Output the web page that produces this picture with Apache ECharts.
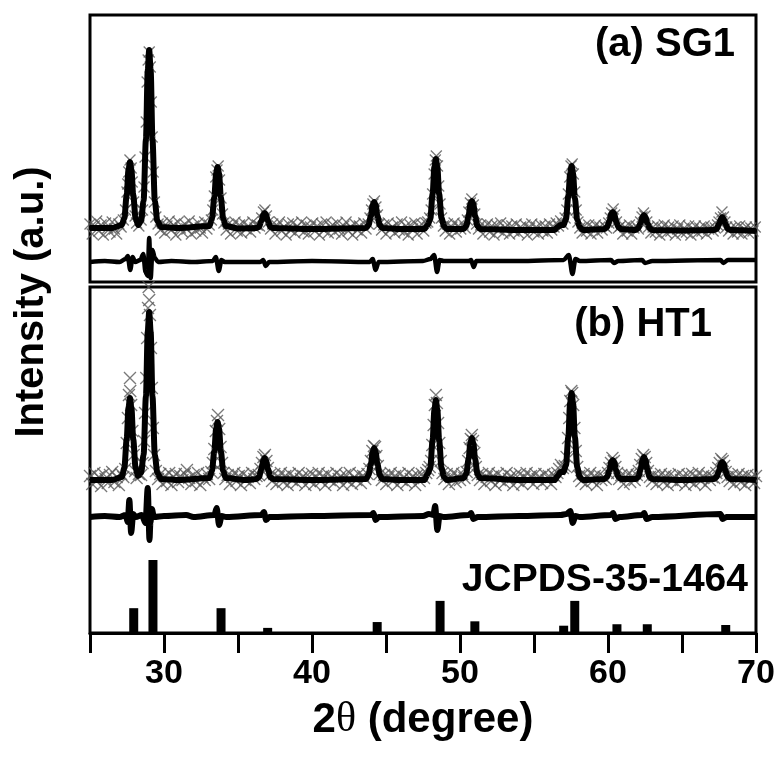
<!DOCTYPE html>
<html>
<head>
<meta charset="utf-8">
<script src="https://cdn.jsdelivr.net/npm/echarts@6/dist/echarts.min.js"></script>
<style>
html,body{margin:0;padding:0;background:#fff;}
#chart{width:784px;height:760px;}
</style>
</head>
<body>
<div id="chart"></div>
<script>
// ---------------- DATA (2θ in degree, intensity in a.u.) ----------------
// (a) SG1 : observed points
var sg1Obs = [
[25.0,8],[25.15,-2],[25.3,6],[25.45,11],[25.6,1],[25.75,7],[25.9,-3],[26.05,9],[26.2,4],[26.35,0],[26.5,10],[26.65,3],[26.8,-2],[26.95,8],[27.1,5],[27.25,12],[27.4,22],[27.5,40],[27.55,48],[27.62,60],[27.7,72],[27.78,64],[27.85,50],[27.95,30],[28.05,16],[28.15,9],[28.3,6],[28.45,12],[28.55,22],[28.65,45],[28.72,75],[28.8,110],[28.86,150],[28.93,172],[29.0,180],[29.07,165],[29.14,130],[29.2,95],[29.27,60],[29.35,30],[29.45,15],[29.6,8],[29.75,2],[29.9,9],
[30.05,-1],[30.2,6],[30.35,11],[30.5,2],[30.65,7],[30.8,-3],[30.95,10],[31.1,4],[31.25,0],[31.4,8],[31.55,3],[31.7,11],[31.85,-2],[32.0,6],[32.15,1],[32.3,9],[32.45,4],[32.6,-1],[32.75,10],[32.9,3],[33.05,7],[33.2,12],[33.3,22],[33.4,36],[33.5,55],[33.58,62],[33.66,66],[33.75,52],[33.85,34],[33.95,18],[34.05,9],[34.2,2],[34.35,8],[34.5,-2],[34.65,6],[34.8,10],[34.95,1],[35.1,7],[35.25,-1],[35.4,9],[35.55,3],[35.7,6],[35.85,0],[36.0,10],[36.15,4],[36.3,7],[36.45,6],[36.6,14],[36.72,20],[36.82,22],[36.92,16],[37.05,10],[37.2,3],[37.35,8],[37.5,-2],[37.65,6],[37.8,10],[37.95,1],[38.1,5],[38.25,-3],[38.4,8],[38.55,2],[38.7,9],[38.85,-1],[39.0,6],[39.15,3],[39.3,10],[39.45,0],[39.6,7],[39.75,-2],[39.9,5],
[40.05,9],[40.2,1],[40.35,6],[40.5,-3],[40.65,8],[40.8,2],[40.95,10],[41.1,-1],[41.25,5],[41.4,7],[41.55,0],[41.7,9],[41.85,3],[42.0,-2],[42.15,6],[42.3,10],[42.45,1],[42.6,5],[42.75,-3],[42.9,8],[43.05,2],[43.2,6],[43.35,-1],[43.5,9],[43.65,3],[43.8,8],[43.92,14],[44.02,22],[44.12,28],[44.22,31],[44.32,25],[44.42,17],[44.55,8],[44.7,2],[44.85,7],[45.0,-2],[45.15,9],[45.3,3],[45.45,5],[45.6,-1],[45.75,8],[45.9,2],[46.05,10],[46.2,0],[46.35,6],[46.5,-3],[46.65,7],[46.8,3],[46.95,9],[47.1,-2],[47.25,5],[47.4,8],[47.55,1],[47.7,9],[47.82,10],[47.95,14],[48.05,22],[48.15,38],[48.25,58],[48.33,72],[48.4,76],[48.48,66],[48.56,46],[48.65,28],[48.75,14],[48.88,6],[49.0,1],[49.15,8],[49.3,-2],[49.45,5],[49.6,9],[49.75,0],[49.9,6],
[50.05,3],[50.2,8],[50.35,4],[50.5,12],[50.6,20],[50.7,29],[50.8,33],[50.9,27],[51.0,18],[51.12,8],[51.25,3],[51.4,7],[51.55,-2],[51.7,5],[51.85,8],[52.0,0],[52.15,6],[52.3,-3],[52.45,7],[52.6,2],[52.75,9],[52.9,-1],[53.05,4],[53.2,7],[53.35,-2],[53.5,6],[53.65,1],[53.8,8],[53.95,-1],[54.1,5],[54.25,2],[54.4,7],[54.55,-3],[54.7,4],[54.85,8],[55.0,0],[55.15,5],[55.3,-2],[55.45,7],[55.6,1],[55.75,6],[55.9,-1],[56.05,8],[56.2,2],[56.35,5],[56.5,9],[56.65,6],[56.8,11],[56.95,8],[57.1,14],[57.22,22],[57.32,38],[57.42,55],[57.5,66],[57.58,68],[57.66,58],[57.75,40],[57.85,22],[57.97,10],[58.1,4],[58.25,-1],[58.4,6],[58.55,1],[58.7,7],[58.85,-2],[59.0,4],[59.15,7],[59.3,-1],[59.45,5],[59.6,2],[59.75,6],[59.9,4],
[60.05,9],[60.15,14],[60.25,19],[60.35,23],[60.45,17],[60.57,10],[60.7,4],[60.85,6],[61.0,-2],[61.15,5],[61.3,1],[61.45,7],[61.6,-2],[61.75,4],[61.9,6],[62.05,3],[62.2,10],[62.3,15],[62.4,19],[62.5,16],[62.62,10],[62.75,5],[62.9,-1],[63.05,5],[63.2,0],[63.35,6],[63.5,-3],[63.65,4],[63.8,7],[63.95,-1],[64.1,5],[64.25,1],[64.4,6],[64.55,-3],[64.7,3],[64.85,7],[65.0,-1],[65.15,4],[65.3,0],[65.45,6],[65.6,-3],[65.75,3],[65.9,6],[66.05,-1],[66.2,4],[66.35,1],[66.5,6],[66.65,-2],[66.8,3],[66.95,5],[67.1,1],[67.25,4],[67.4,7],[67.5,10],[67.6,14],[67.7,20],[67.8,15],[67.9,10],[68.02,5],[68.15,1],[68.3,4],[68.45,-2],[68.6,5],[68.75,0],[68.9,6],[69.05,-2],[69.2,3],[69.35,5],[69.5,-1],[69.65,4],[69.8,1],[69.95,5]
];
// (a) SG1 : calculated profile
var sg1Calc = [
[25.0,4],[26.5,4],[27.15,7],[27.32,14],[27.48,37],[27.6,62],[27.7,70],[27.8,62],[27.92,37],[28.08,14],[28.25,7],[28.45,11],[28.62,31],[28.78,93],[28.9,161],[29.0,182],[29.1,161],[29.22,93],[29.38,31],[29.55,11],[29.8,5],[31.0,4],[33.07,6],[33.24,13],[33.4,35],[33.52,58],[33.62,65],[33.72,58],[33.84,35],[34.0,13],[34.17,6],[35.0,3.5],[36.25,4],[36.42,5],[36.58,11],[36.7,17],[36.8,19],[36.9,17],[37.02,11],[37.18,5],[37.35,4],[40.0,3],[43.65,4],[43.82,7],[43.98,16],[44.1,27],[44.2,30],[44.3,27],[44.42,16],[44.58,7],[44.75,4],[46.0,3],[47.6,3],[47.82,7],[47.99,13],[48.15,38],[48.27,65],[48.37,73],[48.47,65],[48.59,38],[48.75,14],[48.92,6],[49.1,3],[50.25,3],[50.42,6],[50.58,16],[50.7,28],[50.8,31],[50.9,28],[51.02,16],[51.18,6],[51.35,3],[54.0,2],[56.4,2],[56.6,5],[56.8,7],[57.0,7],[57.16,13],[57.32,36],[57.44,58],[57.54,66],[57.64,58],[57.76,34],[57.92,12],[58.09,5],[58.3,2],[59.77,3],[59.94,5],[60.1,11],[60.22,18],[60.32,20],[60.42,18],[60.54,11],[60.7,5],[60.87,3],[61.88,2],[62.05,4],[62.21,9],[62.33,15],[62.43,17],[62.53,15],[62.65,9],[62.81,4],[62.98,2],[65.0,1.5],[67.17,2],[67.34,3],[67.5,8],[67.62,13],[67.72,15],[67.82,13],[67.94,8],[68.1,3],[68.27,2],[70.0,1]
];
// (a) SG1 : difference (obs - calc)
var sg1Diff = [
[25,0],[26,1],[27,0],[27.4,3],[27.55,6],[27.72,-8],[27.88,5],[28.05,0],[28.4,2],[28.6,8],[28.75,-10],[28.9,-14],[29.0,24],[29.1,-16],[29.22,12],[29.38,4],[29.6,0],[30.5,1],[32,0],[33.3,1],[33.5,5],[33.7,-9],[33.88,2],[34.1,0],[36.5,0],[36.7,2],[36.88,-4],[37.1,0],[40,1],[43.9,0],[44.1,3],[44.3,-8],[44.5,0],[47.5,1],[48.0,3],[48.25,7],[48.45,-10],[48.62,2],[48.9,1],[50.6,1],[50.75,2],[50.92,-5],[51.1,1],[54,1],[57.0,2],[57.35,7],[57.6,-12],[57.8,3],[58.1,1],[60.2,2],[60.4,-1],[60.7,1],[62.3,2],[62.5,-1],[63,1],[67.6,2],[67.8,-1],[68.1,2],[70,2]
];

// (b) HT1 : observed points
var ht1Obs = [
[25.0,7],[25.15,-1],[25.3,10],[25.45,2],[25.6,6],[25.75,-3],[25.9,9],[26.05,4],[26.2,0],[26.35,8],[26.5,11],[26.65,1],[26.8,6],[26.95,-2],[27.1,9],[27.25,6],[27.38,14],[27.48,40],[27.56,65],[27.63,88],[27.7,105],[27.72,92],[27.78,78],[27.86,52],[27.95,28],[28.05,12],[28.15,5],[28.3,9],[28.45,8],[28.55,20],[28.65,42],[28.72,70],[28.8,105],[28.86,145],[28.92,175],[28.96,196],[29.0,183],[29.05,168],[29.12,135],[29.18,95],[29.25,55],[29.33,28],[29.45,12],[29.6,4],[29.75,9],[29.9,-1],
[30.05,7],[30.2,2],[30.35,10],[30.5,-2],[30.65,6],[30.8,9],[30.95,1],[31.1,7],[31.25,3],[31.4,9],[31.55,13],[31.7,5],[31.85,-1],[32.0,8],[32.15,2],[32.3,10],[32.45,-2],[32.6,6],[32.75,3],[32.9,9],[33.05,4],[33.2,11],[33.3,20],[33.4,34],[33.5,52],[33.58,62],[33.65,68],[33.73,54],[33.82,36],[33.92,20],[34.02,10],[34.15,4],[34.3,8],[34.45,-1],[34.6,6],[34.75,10],[34.9,2],[35.05,7],[35.2,-2],[35.35,9],[35.5,3],[35.65,6],[35.8,0],[35.95,10],[36.1,4],[36.25,7],[36.4,8],[36.52,14],[36.62,20],[36.72,26],[36.82,28],[36.92,22],[37.02,15],[37.15,8],[37.3,2],[37.45,9],[37.6,-1],[37.75,6],[37.9,10],[38.05,1],[38.2,7],[38.35,-2],[38.5,9],[38.65,3],[38.8,6],[38.95,0],[39.1,10],[39.25,4],[39.4,7],[39.55,-2],[39.7,8],[39.85,2],
[40.0,9],[40.15,-1],[40.3,6],[40.45,10],[40.6,2],[40.75,7],[40.9,-2],[41.05,9],[41.2,3],[41.35,6],[41.5,0],[41.65,10],[41.8,4],[41.95,7],[42.1,-2],[42.25,8],[42.4,2],[42.55,10],[42.7,-1],[42.85,6],[43.0,3],[43.15,9],[43.3,0],[43.45,7],[43.6,4],[43.75,9],[43.88,14],[43.98,22],[44.08,32],[44.18,37],[44.26,36],[44.35,27],[44.45,17],[44.58,9],[44.72,3],[44.87,8],[45.02,-1],[45.17,6],[45.32,10],[45.47,2],[45.62,7],[45.77,-2],[45.92,9],[46.07,3],[46.22,6],[46.37,0],[46.52,10],[46.67,4],[46.82,7],[46.97,-2],[47.12,8],[47.27,2],[47.42,9],[47.57,5],[47.72,10],[47.85,13],[47.95,16],[48.05,22],[48.13,38],[48.22,58],[48.3,78],[48.37,88],[48.44,80],[48.52,60],[48.6,40],[48.7,22],[48.82,10],[48.95,4],[49.1,9],[49.25,-1],[49.4,6],[49.55,10],[49.7,1],[49.85,7],
[50.0,3],[50.15,9],[50.3,5],[50.45,11],[50.55,22],[50.65,35],[50.73,44],[50.8,48],[50.88,42],[50.97,30],[51.07,16],[51.2,8],[51.35,3],[51.5,9],[51.65,-1],[51.8,6],[51.95,10],[52.1,2],[52.25,7],[52.4,-2],[52.55,9],[52.7,3],[52.85,6],[53.0,0],[53.15,10],[53.3,4],[53.45,7],[53.6,-2],[53.75,8],[53.9,2],[54.05,9],[54.2,-1],[54.35,6],[54.5,10],[54.65,3],[54.8,7],[54.95,-1],[55.1,9],[55.25,4],[55.4,6],[55.55,0],[55.7,9],[55.85,3],[56.0,7],[56.15,-1],[56.3,8],[56.45,6],[56.58,10],[56.7,14],[56.82,18],[56.95,15],[57.08,17],[57.2,26],[57.3,45],[57.38,65],[57.45,82],[57.52,92],[57.58,90],[57.65,78],[57.73,55],[57.82,32],[57.92,16],[58.05,7],[58.2,2],[58.35,9],[58.5,-1],[58.65,6],[58.8,10],[58.95,2],[59.1,7],[59.25,-2],[59.4,8],[59.55,3],[59.7,6],[59.85,4],
[60.0,10],[60.1,15],[60.2,20],[60.3,25],[60.4,22],[60.5,16],[60.62,10],[60.75,4],[60.9,8],[61.05,-1],[61.2,6],[61.35,9],[61.5,1],[61.65,7],[61.8,3],[61.95,8],[62.08,12],[62.18,18],[62.28,24],[62.38,28],[62.48,26],[62.58,20],[62.7,12],[62.83,6],[62.98,2],[63.13,8],[63.28,-1],[63.43,6],[63.58,9],[63.73,1],[63.88,7],[64.03,-2],[64.18,8],[64.33,3],[64.48,6],[64.63,0],[64.78,9],[64.93,3],[65.08,7],[65.23,-2],[65.38,8],[65.53,2],[65.68,9],[65.83,-1],[65.98,6],[66.13,10],[66.28,2],[66.43,7],[66.58,-2],[66.73,8],[66.88,3],[67.03,6],[67.18,5],[67.32,10],[67.45,15],[67.55,20],[67.65,24],[67.75,22],[67.85,17],[67.95,11],[68.08,6],[68.22,2],[68.37,8],[68.52,-1],[68.67,6],[68.82,9],[68.97,1],[69.12,7],[69.27,-2],[69.42,8],[69.57,3],[69.72,6],[69.87,0],[70.0,7]
];
// (b) HT1 : calculated profile
var ht1Calc = [
[25,3],[26.5,3],[27.15,6],[27.32,15],[27.48,44],[27.6,75],[27.7,85],[27.8,75],[27.92,44],[28.08,15],[28.25,7],[28.45,10],[28.62,28],[28.78,87],[28.9,151],[29.0,171],[29.1,151],[29.22,87],[29.38,28],[29.55,10],[29.8,4],[31,3],[33.07,5],[33.24,12],[33.4,32],[33.52,54],[33.62,61],[33.72,54],[33.84,32],[34.0,12],[34.17,5],[35.5,3],[36.25,4],[36.42,6],[36.58,14],[36.7,22],[36.8,25],[36.9,22],[37.02,14],[37.18,6],[37.35,4],[40,3],[43.65,4],[43.82,8],[43.98,19],[44.1,31],[44.2,35],[44.3,31],[44.42,19],[44.58,8],[44.75,4],[46,3],[47.6,3],[47.82,9],[47.99,15],[48.15,43],[48.27,73],[48.37,83],[48.47,73],[48.59,43],[48.75,15],[48.92,6],[49.1,3],[50.25,5],[50.42,9],[50.58,24],[50.7,40],[50.8,45],[50.9,40],[51.02,24],[51.18,9],[51.35,5],[54,3],[56.4,3],[56.6,7],[56.8,11],[57.0,11],[57.16,18],[57.32,46],[57.44,80],[57.54,90],[57.64,80],[57.76,46],[57.92,16],[58.09,6],[58.3,3],[59.77,4],[59.94,6],[60.1,13],[60.22,21],[60.32,23],[60.42,21],[60.54,13],[60.7,6],[60.87,4],[61.88,4],[62.05,6],[62.21,14],[62.33,23],[62.43,26],[62.53,23],[62.65,14],[62.81,6],[62.98,4],[65,3],[67.17,4],[67.34,6],[67.5,12],[67.62,19],[67.72,21],[67.82,19],[67.94,12],[68.1,6],[68.27,4],[70,3]
];
// (b) HT1 : difference (obs - calc)
var ht1Diff = [
[25,0],[26,1],[27,0],[27.4,2],[27.55,-5],[27.66,17],[27.78,-16],[27.92,3],[28.1,0],[28.5,2],[28.75,-6],[28.9,29],[29.02,-23],[29.08,-6],[29.18,8],[29.32,0],[30,1],[31.5,2],[32,0],[33.4,2],[33.56,9],[33.72,-8],[33.9,1],[34.2,0],[36.6,2],[36.75,5],[36.9,-3],[37.1,0],[40,1],[44.0,2],[44.15,4],[44.3,-3],[44.5,0],[47.5,1],[47.9,3],[48.2,2],[48.32,11],[48.47,-13],[48.62,1],[48.9,0],[50.6,2],[50.75,4],[50.9,-2],[51.2,0],[54,1],[56.8,2],[57.2,3],[57.45,6],[57.62,-6],[57.8,1],[58.1,0],[60.2,2],[60.35,4],[60.5,-2],[60.8,0],[62.3,2],[62.45,4],[62.6,-2],[63,0],[67.6,3],[67.75,-2],[68,0],[70,0]
];

// JCPDS-35-1464 reference lines: 2θ and relative intensity (%)
var jcpdsPos = [27.65, 28.95, 33.55, 36.7, 44.1, 48.35, 50.7, 56.7, 57.45, 60.3, 62.35, 67.65];
var jcpdsRel = [34, 100, 34, 7, 15, 44, 16, 10, 44, 12, 12, 11];

// labels
var sampleLabels = ['(a) SG1', '(b) HT1', 'JCPDS-35-1464'];
var yName = 'Intensity (a.u.)';

// ---------------- layout constants (vertical stacking offsets) ----------------
var SG1_OFFSET = 50, SG1_DIFF_OFFSET = 20;
var HT1_OFFSET = 150, HT1_DIFF_OFFSET = 116;

function shift(arr, off){ return arr.map(function(p){ return [p[0], p[1] + off]; }); }

var FONT = '"Liberation Sans", Arial, sans-serif';
var crossPath = 'path://M0,0L10,10M10,0L0,10';

var chart = echarts.init(document.getElementById('chart'), null, {renderer:'canvas'});

function hiddenX(i){ return {type:'value', gridIndex:i, min:25, max:70, show:false}; }
function hiddenY(i, mx){ return {type:'value', gridIndex:i, min:0, max:mx, show:false}; }

var crossStyle = {color:'rgba(0,0,0,0)', borderColor:'#585858', borderWidth:1.3};

var option = {
  backgroundColor:'#fff',
  animation:false,
  grid:[
    {left:90, top:15, width:666, height:267, show:true, borderColor:'#000', borderWidth:3, backgroundColor:'transparent'},
    {left:90, top:287, width:666, height:346, show:true, borderColor:'#000', borderWidth:3, backgroundColor:'transparent'},
    {left:90, top:560, width:666, height:73, show:false}
  ],
  xAxis:[
    hiddenX(0),
    {type:'value', gridIndex:1, min:25, max:70, interval:5,
      axisLine:{show:true, lineStyle:{color:'#000', width:3}},
      axisTick:{show:true, inside:false, length:20, lineStyle:{color:'#000', width:3}},
      splitLine:{show:false},
      axisLabel:{show:true, margin:24, color:'#000', fontSize:34, fontWeight:'bold', fontFamily:FONT,
        formatter:function(v){ return v % 10 === 0 ? String(v) : ''; }},
      name:'{b|2}{t|θ}{b| (degree)}', nameLocation:'middle', nameGap:66,
      nameTextStyle:{color:'#000', fontSize:42, fontWeight:'bold', fontFamily:FONT,
        rich:{
          b:{fontSize:42, fontWeight:'bold', fontFamily:FONT, color:'#000'},
          t:{fontSize:42, fontWeight:'normal', fontFamily:'"Liberation Serif", "DejaVu Serif", serif', color:'#000'}
        }}
    },
    hiddenX(2)
  ],
  yAxis:[hiddenY(0,267), hiddenY(1,346), hiddenY(2,100)],
  graphic:[
    {type:'text', x:735, y:45, style:{text:sampleLabels[0], font:'bold 40px '+FONT, fill:'#000', textAlign:'right', textVerticalAlign:'middle', align:'right', verticalAlign:'middle'}},
    {type:'text', x:712, y:325, style:{text:sampleLabels[1], font:'bold 40px '+FONT, fill:'#000', textAlign:'right', textVerticalAlign:'middle', align:'right', verticalAlign:'middle'}},
    {type:'text', x:748, y:580, style:{text:sampleLabels[2], font:'bold 39px '+FONT, fill:'#000', textAlign:'right', textVerticalAlign:'middle', align:'right', verticalAlign:'middle'}},
    {type:'text', x:32, y:302, rotation:Math.PI/2, style:{text:yName, font:'bold 40px '+FONT, fill:'#000', textAlign:'center', textVerticalAlign:'middle', align:'center', verticalAlign:'middle'}}
  ],
  series:[
    {type:'scatter', xAxisIndex:0, yAxisIndex:0, data:shift(sg1Obs, SG1_OFFSET), symbol:crossPath, symbolSize:11,
      itemStyle:crossStyle, silent:true},
    {type:'line', xAxisIndex:0, yAxisIndex:0, data:shift(sg1Calc, SG1_OFFSET), showSymbol:false, smooth:0.3, smoothMonotone:'x',
      lineStyle:{color:'#000', width:6}, silent:true},
    {type:'line', xAxisIndex:0, yAxisIndex:0, data:shift(sg1Diff, SG1_DIFF_OFFSET), showSymbol:false, smooth:0.3, smoothMonotone:'x',
      lineStyle:{color:'#000', width:4.5}, silent:true},
    {type:'scatter', xAxisIndex:1, yAxisIndex:1, data:shift(ht1Obs, HT1_OFFSET), symbol:crossPath, symbolSize:12,
      itemStyle:crossStyle, silent:true},
    {type:'line', xAxisIndex:1, yAxisIndex:1, data:shift(ht1Calc, HT1_OFFSET), showSymbol:false, smooth:0.3, smoothMonotone:'x',
      lineStyle:{color:'#000', width:6}, silent:true},
    {type:'line', xAxisIndex:1, yAxisIndex:1, data:shift(ht1Diff, HT1_DIFF_OFFSET), showSymbol:false, smooth:0.3, smoothMonotone:'x',
      lineStyle:{color:'#000', width:6}, silent:true},
    {type:'custom', xAxisIndex:2, yAxisIndex:2, silent:true,
      data: jcpdsPos.map(function(p,i){ return [p, jcpdsRel[i]]; }),
      renderItem:function(params, api){
        var top = api.coord([api.value(0), api.value(1)]);
        var base = api.coord([api.value(0), 0]);
        return {type:'rect', shape:{x:top[0], y:top[1], width:9, height:base[1]-top[1]}, style:{fill:'#000'}};
      }}
  ]
};
chart.setOption(option);
</script>
</body>
</html>
